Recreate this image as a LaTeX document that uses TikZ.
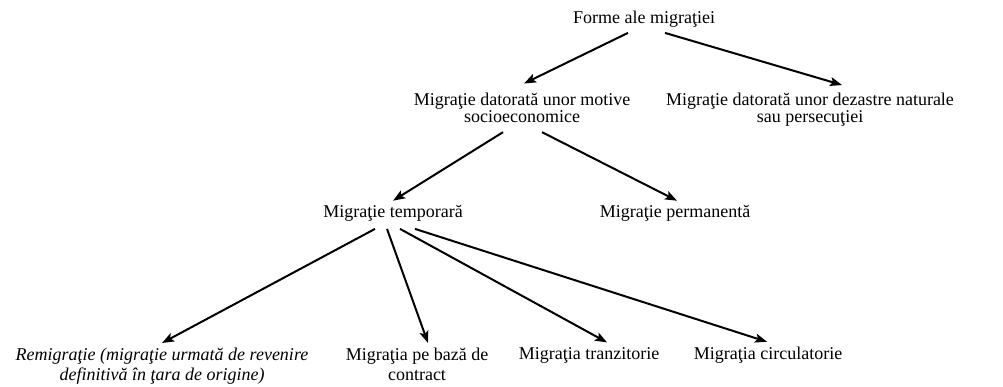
\documentclass[tikz,border=0pt]{standalone}
\usepackage{fontspec}
\setmainfont{Liberation Serif}
\usepackage{tikz}
\usetikzlibrary{arrows.meta}
\tikzset{forma/.style={inner sep=2pt, align=center, font=\fontsize{18}{17}\selectfont}}

\begin{document}
\begin{tikzpicture}[x=1pt, y=-1pt, >={Stealth[length=12pt,width=9pt,inset=2.5pt]}, line width=2pt]
\useasboundingbox (0,0) rectangle (1003,386);
\node[forma, anchor=base] (root) at (644,23) {Forme ale migraţiei};
\node[forma, anchor=north] (socio) at (522,90.5) {Migraţie datorată unor motive\\socioeconomice};
\node[forma, anchor=north] (dezastre) at (810,90.5) {Migraţie datorată unor dezastre naturale\\sau persecuţiei};
\node[forma, anchor=base] (temp) at (393,217) {Migraţie temporară};
\node[forma, anchor=base] (perm) at (675,217) {Migraţie permanentă};
\node[forma, anchor=north, font=\fontsize{18}{20}\selectfont\itshape] (remig) at (162,344.7) {Remigraţie (migraţie urmată de revenire\\definitivă în ţara de origine)};
\node[forma, anchor=north, font=\fontsize{18}{20}\selectfont] (contract) at (417,344.7) {Migraţia pe bază de\\contract};
\node[forma, anchor=base] (tranz) at (589,359) {Migraţia tranzitorie};
\node[forma, anchor=base] (circ) at (768,359) {Migraţia circulatorie};
\draw[->] ([xshift=-16pt,yshift=-3pt]root.south) -- ([xshift=2pt,yshift=7pt]socio.north);
\draw[->] ([xshift=21pt,yshift=-3pt]root.south) -- ([xshift=32pt,yshift=5.5pt]dezastre.north);
\draw[->] ([xshift=-19pt,yshift=-6pt]socio.south) -- ([yshift=1pt]temp.north);
\draw[->] ([xshift=20pt,yshift=-6pt]socio.south) -- ([xshift=2pt,yshift=1pt]perm.north);
\draw[->] ([xshift=-18pt,yshift=-5pt]temp.south) -- ([yshift=1.7pt]remig.north);
\draw[->] ([xshift=-6pt,yshift=-5pt]temp.south) -- ([xshift=11pt,yshift=1.7pt]contract.north);
\draw[->] ([xshift=7pt,yshift=-5pt]temp.south) -- ([xshift=18pt,yshift=1.7pt]tranz.north);
\draw[->] ([xshift=22pt,yshift=-5pt]temp.south) -- ([xshift=-1pt,yshift=1.7pt]circ.north);
\end{tikzpicture}
\end{document}
